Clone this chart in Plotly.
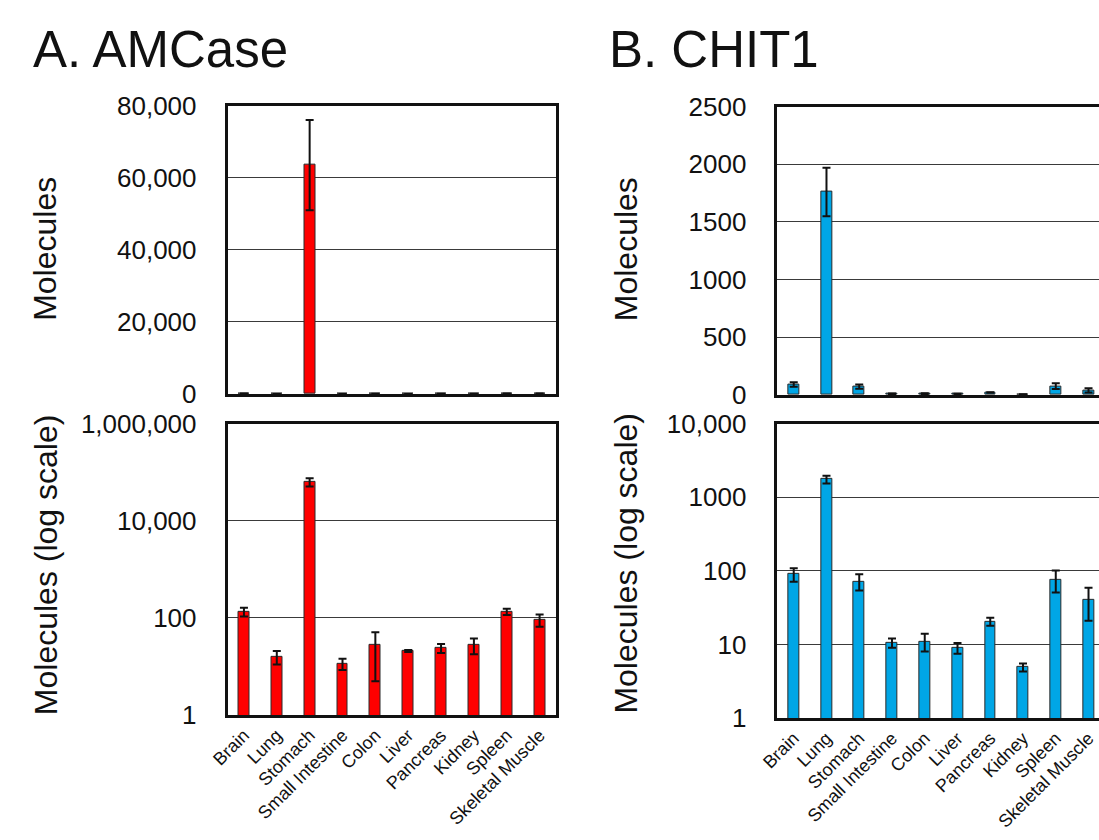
import plotly.graph_objects as go

tissues = ["Brain", "Lung", "Stomach", "Small Intestine", "Colon", "Liver",
           "Pancreas", "Kidney", "Spleen", "Skeletal Muscle"]

amcase_mean = [135, 16, 63500, 11.5, 28, 21, 24, 28, 135, 92]
amcase_err = [27, 5, 12500, 3, 23, 1, 5, 10, 20, 26]

chit1_mean = [90, 1760, 72, 10.5, 11, 9, 20.5, 4.9, 76, 40]
chit1_err = [19, 210, 18, 1.5, 3, 1.5, 2.5, 0.6, 25, 19]

amc_lin_ticks = [0, 20000, 40000, 60000, 80000]
amc_lin_text = ["0", "20,000", "40,000", "60,000", "80,000"]
amc_log_ticks = [1, 100, 10000, 1000000]
amc_log_text = ["1", "100", "10,000", "1,000,000"]
chit_lin_ticks = [0, 500, 1000, 1500, 2000, 2500]
chit_lin_text = ["0", "500", "1000", "1500", "2000", "2500"]
chit_log_ticks = [1, 10, 100, 1000, 10000]
chit_log_text = ["1", "10", "100", "1000", "10,000"]

W, H = 1099, 840
FONT = "Liberation Sans, Arial, sans-serif"
RED = "#ff0000"
BLUE = "#00a6e6"

def px_x(x):
    return x / W

def px_y(y):
    return 1 - y / H

fig = go.Figure()

def add_bars(vals, errs, color, xa, ya):
    fig.add_trace(go.Bar(
        x=list(range(len(tissues))), y=vals,
        width=0.33,
        marker=dict(color=color, line=dict(color="#2a2a2a", width=1)),
        error_y=dict(type="data", array=errs, visible=True, color="#111111",
                     thickness=2, width=4),
        xaxis=xa, yaxis=ya, showlegend=False,
    ))

add_bars(amcase_mean, amcase_err, RED, "x", "y")
add_bars(amcase_mean, amcase_err, RED, "x2", "y2")
add_bars(chit1_mean, chit1_err, BLUE, "x3", "y3")
add_bars(chit1_mean, chit1_err, BLUE, "x4", "y4")

tickfont = dict(family=FONT, size=26, color="#111111")
catfont = dict(family=FONT, size=18, color="#111111")

frame = dict(showline=True, linecolor="#111111", linewidth=2.5)

left_dom = [px_x(213), px_x(547)]
right_dom = [px_x(772), 1.0]

def xaxis(dom, anchor, rng, labels, mirror=True):
    d = dict(domain=dom, anchor=anchor, range=rng, tickmode="array",
             tickvals=list(range(len(tissues))), ticktext=tissues,
             showticklabels=labels, tickangle=-45, tickfont=catfont,
             showgrid=False, zeroline=False, ticks="", mirror=mirror, **frame)
    return d

def yaxis(dom, anchor, tvals, ttext, log, rng, mirror=True):
    d = dict(domain=dom, anchor=anchor, tickmode="array", tickvals=tvals,
             ticktext=ttext, tickfont=tickfont, showgrid=True,
             gridcolor="#3a3a3a", gridwidth=1, zeroline=False, ticks="",
             ticklabelstandoff=23, range=rng, mirror=mirror, **frame)
    if log:
        d["type"] = "log"
    return d

fig.update_layout(
    width=W, height=H,
    margin=dict(l=0, r=0, t=0, b=0),
    paper_bgcolor="white", plot_bgcolor="white",
    font=dict(family=FONT, color="#111111"),
    bargap=0,
    xaxis=xaxis(left_dom, "y", [-0.5, 9.5], False),
    yaxis=yaxis([px_y(393), px_y(94)], "x", amc_lin_ticks, amc_lin_text, False, [0, 80000]),
    xaxis2=xaxis(left_dom, "y2", [-0.5, 9.5], True),
    yaxis2=yaxis([px_y(726), px_y(424)], "x2", amc_log_ticks, amc_log_text, True, [0, 6]),
    xaxis3=xaxis(right_dom, "y3", [-0.5, 9.32], False),
    yaxis3=yaxis([px_y(394), px_y(95)], "x3", chit_lin_ticks, chit_lin_text, False, [0, 2500], mirror=False),
    xaxis4=xaxis(right_dom, "y4", [-0.5, 9.32], True),
    yaxis4=yaxis([px_y(729), px_y(424)], "x4", chit_log_ticks, chit_log_text, True, [0, 4], mirror=False),
)

annos = [
    dict(text="A. AMCase", x=px_x(13), y=px_y(36), xanchor="left", yanchor="middle",
         font=dict(family=FONT, size=51, color="#111111"), textangle=0),
    dict(text="B. CHIT1", x=px_x(599), y=px_y(36), xanchor="left", yanchor="middle",
         font=dict(family=FONT, size=51, color="#111111"), textangle=0),
    dict(text="Molecules", x=px_x(28), y=px_y(243), xanchor="center", yanchor="middle",
         font=dict(family=FONT, size=32, color="#111111"), textangle=-90),
    dict(text="Molecules (log scale)", x=px_x(28), y=px_y(570), xanchor="center", yanchor="middle",
         font=dict(family=FONT, size=32, color="#111111"), textangle=-90),
    dict(text="Molecules", x=px_x(618), y=px_y(243), xanchor="center", yanchor="middle",
         font=dict(family=FONT, size=32, color="#111111"), textangle=-90),
    dict(text="Molecules (log scale)", x=px_x(618), y=px_y(568), xanchor="center", yanchor="middle",
         font=dict(family=FONT, size=32, color="#111111"), textangle=-90),
]
for a in annos:
    fig.add_annotation(xref="paper", yref="paper", showarrow=False, **a)

fig.write_html("out.html")
